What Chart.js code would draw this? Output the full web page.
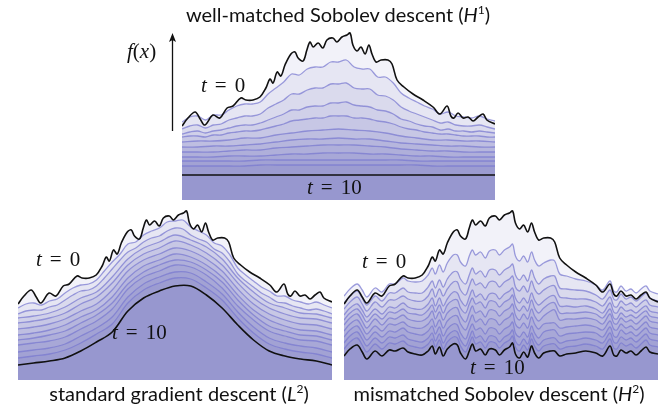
<!DOCTYPE html>
<html>
<head>
<meta charset="utf-8">
<script src="https://cdn.jsdelivr.net/npm/chart.js@4/dist/chart.umd.min.js"></script>
<style>
  html, body { margin:0; padding:0; background:#fff; }
  #wrap { position:relative; width:672px; height:406px; overflow:hidden; }
  canvas { position:absolute; }
  .ttl { position:absolute; font-family:Lato, "Open Sans", sans-serif; font-size:20px; color:#111; white-space:nowrap; transform:translateX(-50%); line-height:1; }
  .ttl sup { font-size:12px; vertical-align:8px; line-height:0; }
  .m { position:absolute; font-family:"Liberation Serif", "DejaVu Serif", serif; font-size:21px; color:#111; white-space:nowrap; line-height:1; }
  .m i { font-style:italic; }
  .m .eq { margin:0 8px; }
</style>
</head>
<body>
<div id="wrap">
  <canvas id="cH1" width="313" height="180" style="left:182px;top:20px;"></canvas>
  <canvas id="cL2" width="314" height="180" style="left:18px;top:200px;"></canvas>
  <canvas id="cH2" width="314" height="180" style="left:344px;top:200px;"></canvas>

  <svg style="position:absolute;left:0;top:0;" width="672" height="406">
    <line x1="172.5" y1="40" x2="172.5" y2="131" stroke="#111" stroke-width="1.3"/>
    <path d="M172.5,33 L169,42 L172.5,40 L176,42 Z" fill="#111"/>
  </svg>

  <div class="ttl" style="left:338px;top:4px;">well-matched Sobolev descent (<i>H</i><sup>1</sup>)</div>
  <div class="ttl" style="left:179px;top:383px;">standard gradient descent (<i>L</i><sup>2</sup>)</div>
  <div class="ttl" style="left:499px;top:383px;">mismatched Sobolev descent (<i>H</i><sup>2</sup>)</div>

  <div class="m" style="left:127px;top:41px;"><i>f</i>(<i>x</i>)</div>
  <div class="m" style="left:201px;top:75px;"><i>t</i><span class="eq">=</span>0</div>
  <div class="m" style="left:307px;top:177px;"><i>t</i><span class="eq">=</span>10</div>
  <div class="m" style="left:36px;top:249px;"><i>t</i><span class="eq">=</span>0</div>
  <div class="m" style="left:112px;top:322px;"><i>t</i><span class="eq">=</span>10</div>
  <div class="m" style="left:362px;top:251px;"><i>t</i><span class="eq">=</span>0</div>
  <div class="m" style="left:470px;top:357px;"><i>t</i><span class="eq">=</span>10</div>
</div>

<script>
// ---- x positions (percent of panel width) ----
const xFine = [0,1.9,4.2,5.8,7.3,9.9,12.1,14.4,16.3,18.8,20.4,22.7,24.9,26.8,28.1,29.1,30.4,31.6,32.9,34.8,36.1,37.1,38.7,39.9,40.9,41.9,43.5,45.0,46.3,48.2,49.5,51.1,52.7,53.7,54.6,55.9,57.2,58.5,59.7,60.7,62.0,63.6,65.8,67.1,68.7,70.9,73.8,77.0,80.2,82.4,84.7,85.9,86.9,88.2,89.8,91.4,93.0,94.6,96.2,97.4,100];
const xGrid41 = [0,2.5,5,7.5,10,12.5,15,17.5,20,22.5,25,27.5,30,32.5,35,37.5,40,42.5,45,47.5,50,52.5,55,57.5,60,62.5,65,67.5,70,72.5,75,77.5,80,82.5,85,87.5,90,92.5,95,97.5,100];
const xGrid21 = [0,5,10,15,20,25,30,35,40,45,50,55,60,65,70,75,80,85,90,95,100];
const xEnds = [0,100];

// ---- initial condition t = 0 (shared by all three panels) ----
const t0 = [76,84,90,83,77,87,84,94,96,104,102,102,105,114,123,119,130,126,137,148,150,144,141,152,160,155,159,154,162,164,160,165,167,169,157,151,155,148,157,148,140,142,142,138,122,115,108,102,95,88,96,86,84,89,84,85,81,85,88,82,78];

// ---- well-matched Sobolev descent (H1) ----
const h1c1 = [80,85,86,82,87,87,92,96,98,98,100,108,114,120,128,127,133,135,135,140,140,142,135,133,133,125,125,119,109,104,100,96,93,88,90,86,85,84,86,83,81];
const h1c2 = [73,76,77,74,77,78,82,84,86,86,88,94,98,102,108,108,112,114,114,118,118,119,114,113,113,107,106,102,95,91,88,85,82,79,80,77,76,76,77,75,73];
const h1c3 = [68,70,71,69,71,72,74,76,77,77,79,82,85,88,92,92,95,96,96,99,99,100,97,96,95,92,91,88,83,81,78,76,75,72,73,71,71,70,71,70,69];
const h1c4 = [65,66,66,65,67,67,69,70,71,71,72,74,76,78,81,82,83,84,84,86,86,86,84,84,83,81,80,78,75,73,72,70,69,68,68,67,66,66,66,65,65];
const h1c5 = [60,61,61,62,64,64,67,69,71,72,73,72,71,69,66,64,62,62,61,61,60];
const h1c6 = [55,55,56,56,57,58,60,62,63,63,64,63,63,61,59,58,57,56,56,55,55];
const h1c7 = [50,50,50,51,52,52,54,55,56,57,57,57,56,55,53,52,51,51,50,50,50];
const h1c8 = [45,45,45,46,46,46,47,48,48,49,49,49,48,48,47,46,46,45,45,45,45];
const h1c9 = [41,41,41,41,41,42,42,42,42,42,42,42,42,42,42,41,41,41,41,41,41];
const h1c10 = [36,36,36,36,36,37,37,37,37,37,37,37,37,37,37,37,36,36,36,36,36];
const h1t10 = [27,27];

// ---- standard gradient descent (L2) ----
const l2c1 = [72,76,77,75,79,81,87,92,95,96,100,109,118,126,136,138,145,149,152,158,159,160,153,149,145,137,134,125,112,105,99,93,89,84,84,80,78,76,78,75,72];
const l2c2 = [66,69,70,70,73,75,80,85,89,90,94,102,111,120,128,132,138,142,144,149,152,151,145,141,138,131,127,118,106,99,93,87,83,78,77,74,72,70,71,69,66];
const l2c3 = [62,64,67,73,82,88,103,121,132,138,145,140,133,121,102,88,77,72,67,66,62];
const l2c4 = [57,59,62,67,76,83,97,115,126,132,139,135,127,115,97,82,72,66,62,61,57];
const l2c5 = [51,53,56,61,69,76,90,109,120,126,132,129,121,109,91,76,66,60,56,55,51];
const l2c6 = [45,47,50,55,63,70,83,102,114,120,126,123,115,103,85,70,60,54,50,49,45];
const l2c7 = [40,42,45,49,57,65,77,96,108,115,120,118,110,98,80,65,54,49,45,44,40];
const l2c8 = [35,37,39,43,51,59,71,91,103,109,115,113,105,92,74,60,49,44,40,39,35];
const l2c9 = [28,30,32,36,44,52,63,83,96,103,108,107,98,86,68,53,42,37,34,32,28];
const l2c10 = [22,24,26,30,37,46,56,77,90,97,102,101,92,80,62,47,36,31,28,26,22];
const l2t10 = [15,17,19,22,29,38,48,69,82,89,94,94,85,72,55,40,29,24,21,19,15];

// ---- mismatched Sobolev descent (H2) ----
const h2c1 = [84,91,96,90,83,92,88,96,96,102,99,98,99,105,112,106,115,108,117,125,125,118,114,124,130,125,128,122,129,130,125,130,133,136,124,119,124,118,128,120,114,117,120,119,106,104,101,99,95,90,99,89,88,94,89,91,87,91,94,89,86];
const h2c2 = [77,84,89,82,75,84,79,87,87,92,88,87,87,93,99,92,100,93,101,108,108,101,96,105,112,106,109,103,110,110,105,110,113,116,105,100,105,99,110,102,96,101,104,104,92,91,90,89,85,81,90,81,80,86,81,83,79,83,87,82,79];
const h2c3 = [71,78,83,76,69,78,73,80,80,84,81,79,79,84,91,83,91,84,91,98,98,90,85,94,101,95,97,92,98,98,93,98,101,104,93,89,94,88,99,91,86,90,94,94,83,82,81,81,78,74,83,74,73,79,75,77,73,77,80,75,73];
const h2c4 = [65,72,76,70,63,71,66,73,72,77,73,71,71,76,82,74,82,74,81,88,87,80,74,83,90,83,86,80,86,86,81,86,89,92,82,77,82,77,87,80,75,79,84,84,74,74,73,74,71,67,77,68,67,73,69,70,67,71,74,69,67];
const h2c5 = [60,67,71,65,58,66,61,68,67,71,67,66,65,70,75,68,75,67,75,80,80,72,67,76,82,76,78,72,79,78,73,78,81,85,74,69,74,69,80,72,67,72,77,77,67,67,67,68,66,62,71,62,61,67,63,65,62,66,69,64,62];
const h2c6 = [55,62,66,59,52,61,55,62,61,65,61,59,59,63,69,61,68,60,67,72,72,64,58,67,74,67,69,63,70,69,64,69,72,76,65,60,66,61,71,64,59,64,69,70,60,61,61,62,60,56,66,57,56,62,58,60,56,60,64,59,57];
const h2c7 = [49,56,60,53,46,54,49,56,55,58,54,52,52,56,61,53,60,52,59,64,64,56,50,58,65,58,61,55,61,60,55,60,63,67,56,52,57,52,63,56,51,56,57,57,52,53,54,55,53,50,59,51,50,56,52,54,50,54,58,53,51];
const h2c8 = [43,50,54,47,40,48,43,49,48,52,48,46,45,49,54,46,53,44,51,56,55,47,41,50,56,50,52,46,52,51,46,51,54,58,47,43,48,43,54,47,42,48,50,50,44,46,47,48,47,43,53,44,43,50,46,48,44,48,52,47,45];
const h2c9 = [37,44,48,41,34,42,37,43,42,45,41,39,38,42,47,39,46,37,44,49,48,40,34,42,49,42,44,38,44,43,38,43,46,50,39,35,41,36,47,40,35,40,42,42,37,39,40,42,40,37,47,38,37,43,40,42,38,42,46,41,39];
const h2c10 = [31,38,42,35,28,36,31,37,36,39,35,33,32,36,41,33,40,31,38,43,42,34,28,36,43,36,38,32,38,37,32,37,40,44,33,29,35,30,41,34,29,34,36,36,31,33,34,36,34,31,41,32,31,37,34,36,32,36,40,35,33];
const h2t10 = [24,31,35,28,21,29,24,30,29,32,28,26,25,29,34,26,33,24,31,36,35,27,21,29,36,29,31,25,31,30,25,30,33,37,26,22,28,23,34,27,22,27,29,29,24,26,27,29,27,24,34,25,24,30,27,29,25,29,33,28,26];

// ---- styling ----
const FILL = 'rgba(90,90,175,0.078)';
const LINE = 'rgba(120,120,208,0.72)';
const BLACK = '#111111';

function makePanel(id, curves, yMin) {
  const n = curves.length;
  const datasets = curves.map(([xs, ys], i) => {
    const edge = (i === 0 || i === n - 1);
    return {
      data: xs.map((x, j) => ({ x: x, y: ys[j] })),
      borderColor: edge ? BLACK : LINE,
      borderWidth: edge ? 1.6 : 1.3,
      backgroundColor: FILL,
      fill: 'start',
      pointRadius: 0,
      tension: 0.35
    };
  });
  new Chart(document.getElementById(id), {
    type: 'line',
    data: { datasets },
    options: {
      responsive: false,
      animation: false,
      devicePixelRatio: 1,
      layout: { padding: 0 },
      plugins: {
        legend: { display: false },
        tooltip: { enabled: false },
        filler: { drawTime: 'beforeDatasetsDraw' }
      },
      scales: {
        x: { type: 'linear', min: 0, max: 100, display: false },
        y: { type: 'linear', min: yMin, max: yMin + 180, display: false }
      }
    }
  });
}

makePanel('cH1', [
  [xFine, t0], [xGrid41, h1c1], [xGrid41, h1c2], [xGrid41, h1c3], [xGrid41, h1c4],
  [xGrid21, h1c5], [xGrid21, h1c6], [xGrid21, h1c7], [xGrid21, h1c8], [xGrid21, h1c9],
  [xGrid21, h1c10], [xEnds, h1t10]
], 2);

makePanel('cL2', [
  [xFine, t0], [xGrid41, l2c1], [xGrid41, l2c2], [xGrid21, l2c3], [xGrid21, l2c4],
  [xGrid21, l2c5], [xGrid21, l2c6], [xGrid21, l2c7], [xGrid21, l2c8], [xGrid21, l2c9],
  [xGrid21, l2c10], [xGrid21, l2t10]
], 0);

makePanel('cH2', [
  [xFine, t0], [xFine, h2c1], [xFine, h2c2], [xFine, h2c3], [xFine, h2c4],
  [xFine, h2c5], [xFine, h2c6], [xFine, h2c7], [xFine, h2c8], [xFine, h2c9],
  [xFine, h2c10], [xFine, h2t10]
], 0);
</script>
</body>
</html>
